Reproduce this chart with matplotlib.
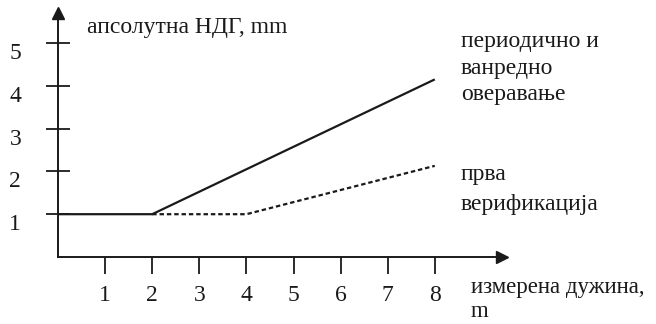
import matplotlib
matplotlib.use("Agg")
import matplotlib.pyplot as plt
from matplotlib.transforms import ScaledTranslation

# Data
x_ticks = [1, 2, 3, 4, 5, 6, 7, 8]
y_ticks = [1, 2, 3, 4, 5]
periodic_x = [0, 2, 8]
periodic_y = [1, 1, 4.15]
first_x = [2, 4, 8]
first_y = [1, 1, 2.13]

ylabel_text = "апсолутна НДГ, mm"
xlabel_text = "измерена дужина,\nm"
periodic_label = "периодично и\nванредно\nоверавање"
first_label = "прва\nверификација"

plt.rcParams['font.family'] = ['Liberation Serif', 'DejaVu Serif']
FS = 17
INK = "#1a1a1a"

fig = plt.figure(figsize=(6.56, 3.24), dpi=100)
W, H = 656, 324
left, right, bottom, top = 58, 502, 257, 13
ax = fig.add_axes([left / W, (H - bottom) / H, (right - left) / W, (bottom - top) / H])
ax.set_xlim(0, (right - left) / 47.1)
ax.set_ylim(0, (bottom - top) / 42.8)

for s in ["top", "right"]:
    ax.spines[s].set_visible(False)
for s in ["left", "bottom"]:
    ax.spines[s].set_linewidth(1.4)
    ax.spines[s].set_color(INK)

# arrows
ax.plot(1, 0, ">", color=INK, ms=9, transform=ax.get_yaxis_transform(), clip_on=False)
ax.plot(0, 1, "^", color=INK, ms=9, transform=ax.get_xaxis_transform(), clip_on=False)

ax.set_xticks(x_ticks)
ax.set_xticklabels([str(v) for v in x_ticks], fontsize=FS, color=INK)
ax.set_yticks(y_ticks)
ax.set_yticklabels([str(v) for v in y_ticks], fontsize=FS, color=INK)
ax.tick_params(axis="x", direction="out", length=12, width=1.3, pad=8, color=INK)
ax.tick_params(axis="y", direction="inout", length=17, width=1.3, pad=18, color=INK)
off = ScaledTranslation(0, -8 / 100, fig.dpi_scale_trans)
for lab in ax.get_yticklabels():
    lab.set_transform(lab.get_transform() + off)

ax.plot(periodic_x, periodic_y, color=INK, lw=1.6, solid_capstyle="butt")
ax.plot(first_x, first_y, color=INK, lw=1.6, linestyle=(0, (2, 1.3)))

# texts (figure pixel coords)
def ftext(x, y, s, ls=1.4, fs=FS, **kw):
    fig.text(x / W, 1 - y / H, s, fontsize=fs, color=INK, linespacing=ls, **kw)

ftext(87, 27, ylabel_text, va="center")
ftext(461, 31, periodic_label, va="top", ls=1.35)
ftext(461, 164, first_label, va="top", ls=1.55)
ftext(471, 277, xlabel_text, va="top", ls=1.2, fs=16.5)

fig.savefig("out.png", dpi=100)
